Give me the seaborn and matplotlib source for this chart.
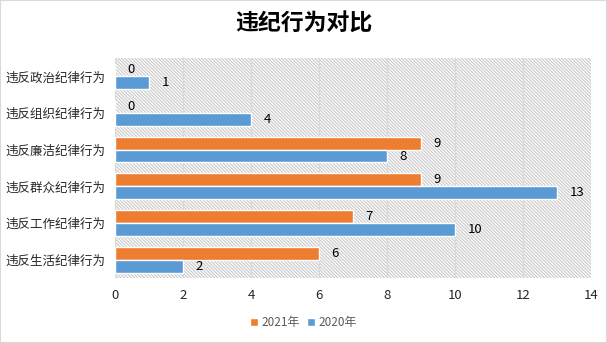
import matplotlib
matplotlib.use("Agg")
import matplotlib.pyplot as plt
import seaborn as sns
import pandas as pd
from matplotlib.patches import Rectangle

categories = ["违反政治纪律行为", "违反组织纪律行为", "违反廉洁纪律行为",
              "违反群众纪律行为", "违反工作纪律行为", "违反生活纪律行为"]
series_names = ["2021年", "2020年"]
values_2021 = [0, 0, 9, 9, 7, 6]
values_2020 = [1, 4, 8, 13, 10, 2]
x_ticks = [0, 2, 4, 6, 8, 10, 12, 14]
colors = ["#ED7D31", "#5B9BD5"]

rows = []
for c, a, b in zip(categories, values_2021, values_2020):
    rows.append({"cat": c, "year": series_names[0], "v": a})
    rows.append({"cat": c, "year": series_names[1], "v": b})
df = pd.DataFrame(rows)

sns.set_theme(style="white")
plt.rcParams["font.family"] = ["Noto Sans CJK SC", "DejaVu Sans"]
plt.rcParams["hatch.linewidth"] = 0.8

fig = plt.figure(figsize=(6.07, 3.43), dpi=100)
ax = fig.add_axes([0.1895, 0.1895, 0.7841, 0.6415])

# hatched background
bg = Rectangle((0, 0), 1, 1, transform=ax.transAxes, facecolor="white",
               edgecolor="#C8C8C8", hatch="\\" * 10, linewidth=0, zorder=0)
ax.add_patch(bg)
ax.set_facecolor("white")

sns.barplot(data=df, y="cat", x="v", hue="year", hue_order=series_names,
            order=categories, palette=colors, orient="h", width=0.7,
            saturation=1, ax=ax, zorder=3, legend=True)

for cont in ax.containers:
    ax.bar_label(cont, fmt="%d", padding=9, fontsize=9.5, color="#000000")

ax.set_xlim(0, 14)
ax.set_xticks(x_ticks)
ax.set_xticklabels([str(t) for t in x_ticks], fontsize=9.5)
ax.tick_params(axis="x", length=0, pad=8)
ax.tick_params(axis="y", length=0, pad=7, labelsize=9)
ax.set_xlabel("")
ax.set_ylabel("")
ax.grid(axis="x", color="#D9D9D9", linewidth=1, zorder=1)
ax.set_axisbelow(True)
for s in ax.spines.values():
    s.set_visible(False)

handles, labels = ax.get_legend_handles_labels()
ax.legend_.remove()
leg = fig.legend(handles, labels, loc="center", bbox_to_anchor=(0.5, 0.06),
                 ncol=2, frameon=False, fontsize=8.5, handlelength=0.7,
                 handleheight=0.7, handletextpad=0.3, columnspacing=0.6)
for t in leg.get_texts():
    t.set_color("#595959")

fig.text(0.5, 0.93, "违纪行为对比", ha="center", va="center",
         fontsize=16.5, fontweight="bold", color="#000000")

border = Rectangle((0, 0), 1, 1, transform=fig.transFigure, fill=False,
                   edgecolor="#D9D9D9", linewidth=1.5)
fig.patches.append(border)

fig.savefig("out.png", dpi=100, facecolor="white")
